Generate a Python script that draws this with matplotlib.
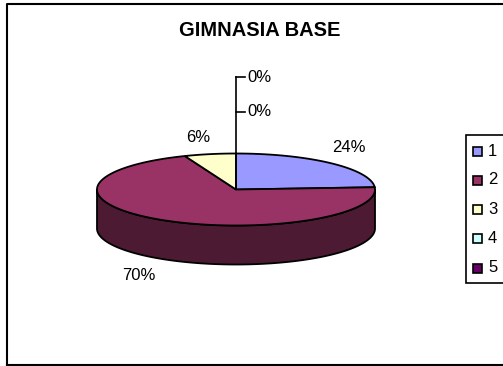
import numpy as np
import matplotlib
matplotlib.use("Agg")
import matplotlib.pyplot as plt
from matplotlib.patches import Polygon, Rectangle

plt.rcParams['font.family'] = ['Liberation Sans', 'DejaVu Sans']

categories = ['1', '2', '3', '4', '5']
values = [24, 70, 6, 0, 0]
colors = ['#9999FF', '#993366', '#FFFFCC', '#CCFFFF', '#660066']
side_color = '#4D1A33'

title = 'GIMNASIA BASE'
cx, cy, rx, ry, depth = 236, 189.5, 139, 36, 39


def ell(deg):
    # angle measured clockwise from 12 o'clock
    t = np.radians(deg)
    return cx + rx * np.sin(t), cy - ry * np.cos(t)


fig = plt.figure(figsize=(5.03, 3.66), dpi=100)
ax = fig.add_axes([0, 0, 1, 1])
ax.set_xlim(0, 503)
ax.set_ylim(366, 0)
ax.axis('off')

# chart frame
ax.plot([7, 7, 503], [366, 3.5, 3.5], color='black', lw=1.5, solid_capstyle='butt')
ax.plot([7, 503], [365, 365], color='black', lw=1.5)

ax.text(259.5, 30, title, ha='center', va='center', fontsize=14.5, fontweight='bold')

# side wall, only the front half shows
t = np.linspace(90, 270, 200)
ex, ey = ell(t)
wall = np.column_stack([np.r_[ex, ex[::-1]], np.r_[ey, ey[::-1] + depth]])
ax.add_patch(Polygon(wall, closed=True, fc=side_color, ec='black', lw=1.3, zorder=2))

# top slices
start = 0
total = sum(values)
for v, c in zip(values, colors):
    end = start + 360 * v / total
    if v > 0:
        t = np.linspace(start, end, 200)
        ex, ey = ell(t)
        pts = np.column_stack([np.r_[cx, ex], np.r_[cy, ey]])
        ax.add_patch(Polygon(pts, closed=True, fc=c, ec='black', lw=1.3, zorder=3))
    start = end

# leader lines for the 0% slices
ax.plot([236, 236], [77, 189], color='black', lw=1.2, zorder=4)
ax.plot([236, 245], [77, 77], color='black', lw=1.2, zorder=4)
ax.plot([236, 245], [112, 112], color='black', lw=1.2, zorder=4)

labels = ['24%', '70%', '6%', '0%', '0%']
label_x = [349, 139, 198, 259, 259]
label_y = [148, 276, 137, 77, 112]
for s, x, y in zip(labels, label_x, label_y):
    ax.text(x, y, s, ha='center', va='center', fontsize=12, color='black', zorder=5)

# legend
ax.add_patch(Rectangle((466.5, 135), 40, 148, fc='white', ec='black', lw=1.2))
leg_y = [151, 180, 209.5, 238.5, 268]
for name, c, y in zip(categories, colors, leg_y):
    ax.add_patch(Rectangle((473.5, y - 4.5), 9, 9, fc=c, ec='black', lw=1.2))
    ax.text(488, y, name, ha='left', va='center', fontsize=12)

fig.savefig('out.png', dpi=100)
